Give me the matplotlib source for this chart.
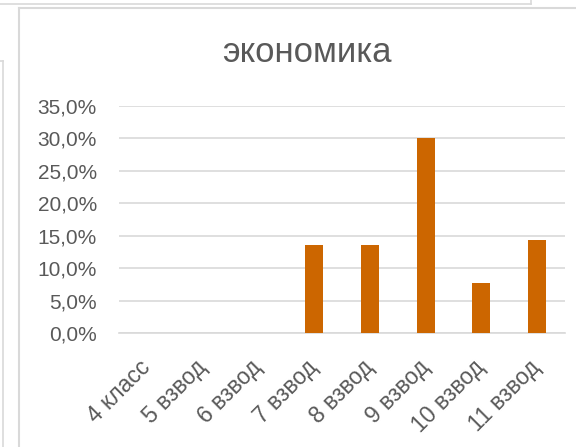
import matplotlib
matplotlib.use('Agg')
import matplotlib.pyplot as plt
from matplotlib.lines import Line2D
from matplotlib.ticker import FuncFormatter

categories = ['4 класс', '5 взвод', '6 взвод', '7 взвод', '8 взвод', '9 взвод', '10 взвод', '11 взвод']
values = [0.0, 0.0, 0.0, 0.136, 0.136, 0.300, 0.077, 0.143]
title = 'экономика'

plt.rcParams['font.family'] = ['Liberation Sans', 'DejaVu Sans']
text_color = '#595959'
grid_color = '#d9d9d9'

fig = plt.figure(figsize=(5.76, 4.47), dpi=100)
ax = fig.add_axes([119/576, 1 - 333/447, (565-119)/576, (333-106)/447])

x = range(len(categories))
ax.bar(x, values, width=0.32, color='#cc6600', zorder=3)

ax.set_ylim(0, 0.35)
ax.set_xlim(-0.5, len(categories) - 0.5)
ax.set_yticks([i * 0.05 for i in range(8)])
ax.yaxis.set_major_formatter(FuncFormatter(lambda v, p: f'{v*100:.1f}%'.replace('.', ',')))
ax.grid(axis='y', color=grid_color, linewidth=1.2, zorder=0)
for s in ['top', 'right', 'left']:
    ax.spines[s].set_visible(False)
ax.spines['bottom'].set_color(grid_color)
ax.spines['bottom'].set_linewidth(1.2)
ax.tick_params(axis='both', length=0, labelsize=15, colors=text_color)
ax.tick_params(axis='y', pad=16)
ax.set_xticks(list(x))
ax.set_xticklabels(categories, rotation=45, ha='right', va='center',
                   rotation_mode='anchor', fontsize=16.5)
ax.tick_params(axis='x', pad=22)

fig.text(307/576, 1 - 52/447, title, ha='center', va='center', fontsize=25, color=text_color)

# рамки соседних диаграмм
border = '#d9d9d9'
fig.add_artist(Line2D([19/576, 1], [1 - 8/447, 1 - 8/447], color=border, lw=1.5))
fig.add_artist(Line2D([19/576, 19/576], [0, 1 - 8/447], color=border, lw=1.5))
fig.add_artist(Line2D([0, 531/576], [1 - 4/447, 1 - 4/447], color=border, lw=1.2))
fig.add_artist(Line2D([531/576, 531/576], [1 - 4/447, 1], color=border, lw=1.2))
fig.add_artist(Line2D([3/576, 3/576], [0, 1 - 61/447], color=border, lw=1.2))
fig.add_artist(Line2D([0, 3/576], [1 - 61/447, 1 - 61/447], color=border, lw=1.2))

fig.savefig('out.png', dpi=100)
